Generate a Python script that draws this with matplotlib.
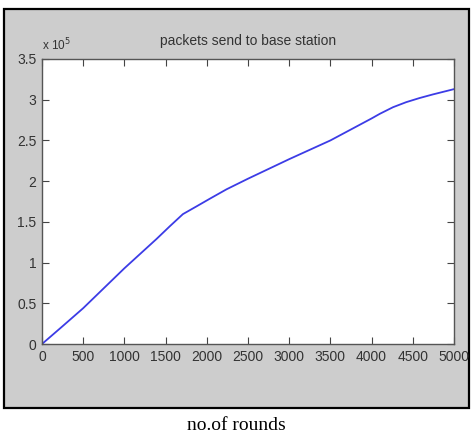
import matplotlib
matplotlib.use("Agg")
import matplotlib.pyplot as plt
from matplotlib.patches import Rectangle
from matplotlib.ticker import FuncFormatter
import numpy as np

rounds = [0, 240, 500, 1000, 1390, 1550, 1710, 1875, 2040, 2240, 2500, 3000, 3500,
          4000, 4100, 4260, 4420, 4580, 4740, 5000]
packets = [0, 21000, 44000, 93000, 129000, 144500, 159500, 169000, 178600, 190000, 203000,
           227000, 250000, 277000, 282700, 290800, 297000, 302000, 306400, 313000]

xticks = [0, 500, 1000, 1500, 2000, 2500, 3000, 3500, 4000, 4500, 5000]
yticks = [0, 50000, 100000, 150000, 200000, 250000, 300000, 350000]

sans = ['Liberation Sans', 'DejaVu Sans']

fig = plt.figure(figsize=(4.72, 4.38), dpi=100)
fig.patch.set_facecolor('white')

# matlab grey window panel
panel = Rectangle((4 / 472, 30 / 438), 465 / 472, 399 / 438,
                  transform=fig.transFigure, facecolor='#cdcdcd',
                  edgecolor='black', linewidth=1.6, zorder=-5)
fig.add_artist(panel)

ax = fig.add_axes([42 / 472, 94 / 438, 412 / 472, 285 / 438])
ax.set_zorder(2)
ax.plot(rounds, packets, color='#3c3ce6', linewidth=1.3)
ax.set_xlim(0, 5000)
ax.set_ylim(0, 350000)
ax.set_xticks(xticks)
ax.set_yticks(yticks)
ax.yaxis.set_major_formatter(FuncFormatter(lambda v, p: "%g" % (v / 1e5)))

ax.tick_params(direction='in', length=5, width=0.8, top=True, right=True,
               colors='#444444', labelcolor='#333333', labelsize=10, pad=4)
for lbl in ax.get_xticklabels() + ax.get_yticklabels():
    lbl.set_family(sans)
for s in ax.spines.values():
    s.set_color('#555555')
    s.set_linewidth(1.0)

ax.set_title("packets send to base station", family=sans, fontsize=10,
             color='#333333', pad=10)
ax.text(0.0, 1.02, r"x 10$^5$", transform=ax.transAxes, family=sans,
        fontsize=8.5, color='#333333', ha='left', va='bottom')

fig.text(236 / 472, 13 / 438, "no.of rounds", family=['Liberation Serif', 'DejaVu Serif'],
         fontsize=14, ha='center', va='center', color='black')

fig.savefig("out.png", dpi=100)
